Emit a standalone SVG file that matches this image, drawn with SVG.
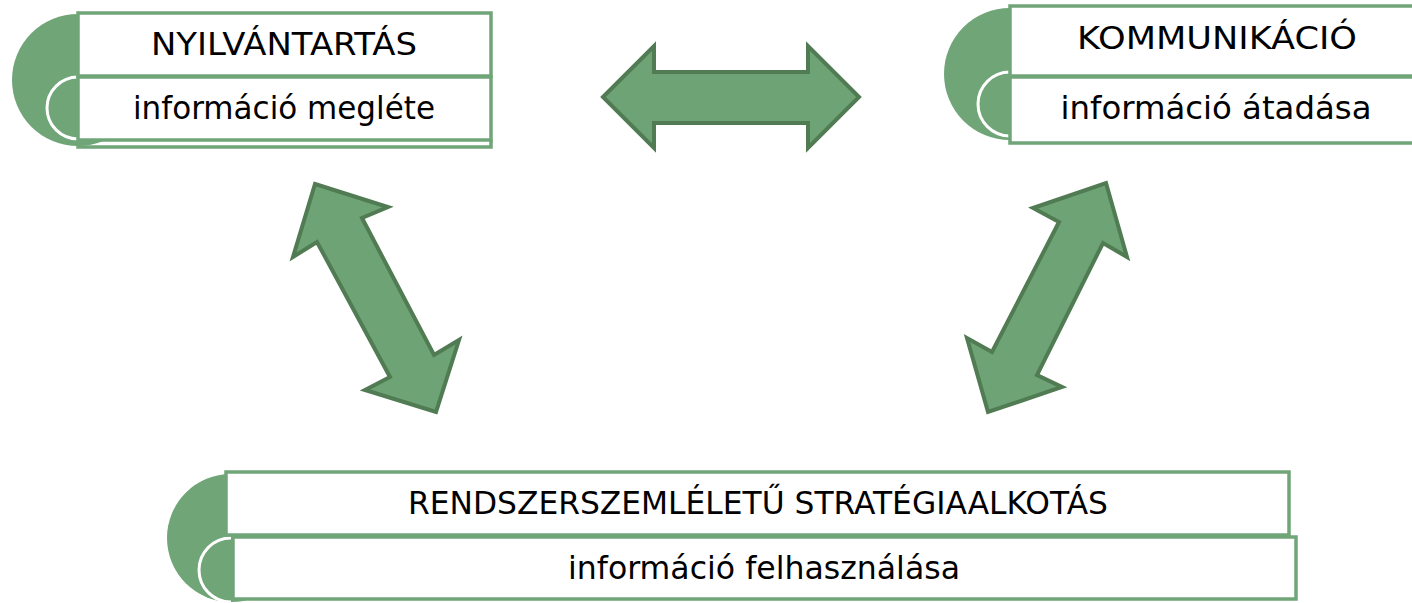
<svg xmlns="http://www.w3.org/2000/svg" width="1412" height="603" viewBox="0 0 1412 603">
<style>
.half{fill:#70a578;}
.arc{fill:none;stroke:#ffffff;stroke-width:3;}
.box{fill:#ffffff;stroke:#70a578;stroke-width:3.5;}
.line{fill:none;stroke:#70a578;stroke-width:3.5;}
.arrow{fill:#6ea375;stroke:#507b53;stroke-width:4;stroke-linejoin:miter;}
.t{font-family:"DejaVu Sans","Liberation Sans",sans-serif;font-size:31.5px;fill:#000;text-anchor:middle;}
</style>
<rect width="1412" height="603" fill="#ffffff"/>
<g id="connectors">
<polygon class="arrow" points="603,97 654,46 654,72 808,72 808,46 859,97 808,148 808,123 654,123 654,148"/>
<polygon class="arrow" points="315,184 388,207 362,218 434,355 459,340 436,412 365,390 390,377 317,242 293,257"/>
<polygon class="arrow" points="1106,183 1127,257 1103,243 1037,375 1062,387 988,412 967,338 992,352 1059,222 1033,208"/>
</g>
<g id="node-nyilvantartas">
<circle class="half" cx="78" cy="80" r="66"/>
<path class="arc" d="M78,77 A31,31 0 0 0 78,139"/>
<path class="line" d="M78,140 V147 H491 V140"/>
<rect class="box" x="78" y="13" width="413" height="63"/>
<rect class="box" x="78" y="77" width="413" height="63"/>
<text class="t" x="284" y="55" textLength="266" lengthAdjust="spacingAndGlyphs">NYILVÁNTARTÁS</text>
<text class="t" x="284" y="119" textLength="302" lengthAdjust="spacingAndGlyphs">információ megléte</text>
</g>
<g id="node-kommunikacio">
<circle class="half" cx="1010" cy="74" r="66"/>
<path class="arc" d="M1010,72 A32,32 0 0 0 1010,136"/>
<rect class="box" x="1010" y="6" width="420" height="70"/>
<rect class="box" x="1010" y="77" width="420" height="66"/>
<text class="t" x="1217" y="49" textLength="280" lengthAdjust="spacingAndGlyphs">KOMMUNIKÁCIÓ</text>
<text class="t" x="1216" y="119" textLength="311" lengthAdjust="spacingAndGlyphs">információ átadása</text>
</g>
<g id="node-strategia">
<circle class="half" cx="231" cy="538" r="64"/>
<path class="arc" d="M231,538 A32,32 0 0 0 231,602"/>
<rect class="box" x="226" y="472" width="1063" height="63"/>
<rect class="box" x="233" y="537" width="1063" height="62"/>
<text class="t" x="758" y="514" textLength="700" lengthAdjust="spacingAndGlyphs">RENDSZERSZEMLÉLETŰ STRATÉGIAALKOTÁS</text>
<text class="t" x="764" y="579" textLength="392" lengthAdjust="spacingAndGlyphs">információ felhasználása</text>
</g>
</svg>
